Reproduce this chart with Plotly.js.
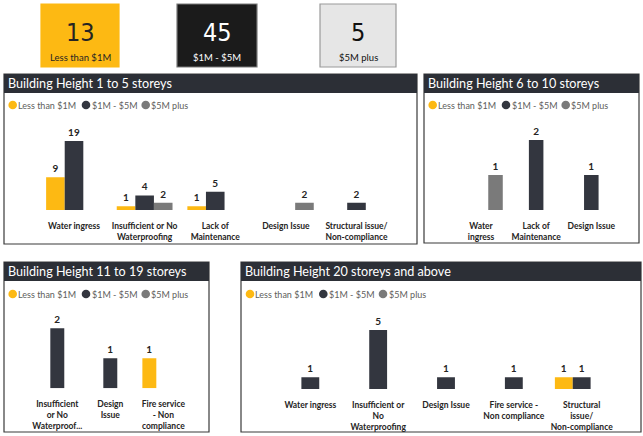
<!DOCTYPE html>
<html>
<head>
<meta charset="utf-8">
<script src="https://cdn.plot.ly/plotly-3.0.1.min.js"></script>
<style>html,body{margin:0;padding:0;background:#fff;}#chart{width:643px;height:436px;}</style>
</head>
<body>
<div id="chart"></div>
<script>
// ---- data ----
const seriesNames = ["Less than $1M", "$1M - $5M", "$5M plus"];
const seriesColors = ["#FDB913", "#33363F", "#7A7A7A"];

const panel1Title = "Building Height 1 to 5 storeys";
const panel1Cats = ["Water ingress", "Insufficient or No<br>Waterproofing", "Lack of<br>Maintenance", "Design Issue", "Structural issue/<br>Non-compliance"];
const panel1Less = [9, 1, 1, null, null];
const panel1Mid = [19, 4, 5, null, 2];
const panel1Plus = [null, 2, null, 2, null];

const panel2Title = "Building Height 6 to 10 storeys";
const panel2Cats = ["Water<br>ingress", "Lack of<br>Maintenance", "Design Issue"];
const panel2Less = [null, null, null];
const panel2Mid = [null, 2, 1];
const panel2Plus = [1, null, null];

const panel3Title = "Building Height 11 to 19 storeys";
const panel3Cats = ["Insufficient<br>or No<br>Waterproof...", "Design<br>Issue", "Fire service<br>- Non<br>compliance"];
const panel3Less = [null, null, 1];
const panel3Mid = [2, 1, null];
const panel3Plus = [null, null, null];

const panel4Title = "Building Height 20 storeys and above";
const panel4Cats = ["Water ingress", "Insufficient or<br>No<br>Waterproofing", "Design Issue", "Fire service -<br>Non compliance", "Structural<br>issue/<br>Non-compliance"];
const panel4Less = [null, null, null, null, 1];
const panel4Mid = [1, 5, 1, 1, 1];
const panel4Plus = [null, null, null, null, null];

// ---- layout helpers ----
const W = 643, H = 436;
const px = x => x / W;
const py = y => 1 - y / H;
const FONT = "Lato, 'Open Sans', sans-serif";

const panels = [
  {title: panel1Title, cats: panel1Cats, vals: [panel1Less, panel1Mid, panel1Plus],
   box: [4, 74, 417, 244], xd: [38.7, 391.8], base: 210, ppu: 3.63, ymax: 20, legX: 12.7, legY: 105},
  {title: panel2Title, cats: panel2Cats, vals: [panel2Less, panel2Mid, panel2Plus],
   box: [424, 74, 639, 243], xd: [453.4, 618.9], base: 210, ppu: 35, ymax: 2.2, legX: 432.7, legY: 105},
  {title: panel3Title, cats: panel3Cats, vals: [panel3Less, panel3Mid, panel3Plus],
   box: [4, 262, 209, 432], xd: [30.8, 189.8], base: 388.3, ppu: 30, ymax: 2.2, legX: 12.7, legY: 294},
  {title: panel4Title, cats: panel4Cats, vals: [panel4Less, panel4Mid, panel4Plus],
   box: [241, 262, 641, 432], xd: [276.4, 615.6], base: 389, ppu: 11.8, ymax: 5.5, legX: 250, legY: 294}
];

const data = [];
const shapes = [];
const annotations = [];
const layout = {
  width: W, height: H,
  margin: {l: 0, r: 0, t: 0, b: 0},
  paper_bgcolor: "#fff", plot_bgcolor: "rgba(0,0,0,0)",
  barmode: "group", bargap: 0.21, bargroupgap: 0,
  showlegend: false,
  font: {family: FONT, color: "#252423"}
};

panels.forEach((p, i) => {
  const n = i + 1;
  const xa = n === 1 ? "x" : "x" + n;
  const ya = n === 1 ? "y" : "y" + n;
  p.vals.forEach((v, s) => {
    data.push({
      type: "bar", x: p.cats, y: v, name: seriesNames[s],
      xaxis: xa, yaxis: ya,
      marker: {color: seriesColors[s], line: {width: 0}},
      texttemplate: "%{y}", textposition: "outside", cliponaxis: false,
      constraintext: "none",
      outsidetextfont: {family: FONT, size: 10, color: "#252423", weight: 700},
      hoverinfo: "skip"
    });
  });
  const yTopPx = p.base - p.ymax * p.ppu;
  layout["xaxis" + (n === 1 ? "" : n)] = {
    domain: [px(p.xd[0]), px(p.xd[1])], anchor: ya,
    type: "category", range: [-0.5, p.cats.length - 0.5],
    showgrid: false, zeroline: false, showline: false, ticks: "",
    tickangle: 0, ticklabelstandoff: 9, fixedrange: true,
    tickfont: {family: FONT, size: 8.5, color: "#252423", weight: 700}
  };
  layout["yaxis" + (n === 1 ? "" : n)] = {
    domain: [py(p.base), py(yTopPx)], anchor: xa,
    range: [0, p.ymax], visible: false, fixedrange: true
  };
  // panel border and header
  const [x0, y0, x1, y1] = p.box;
  shapes.push({type: "rect", xref: "paper", yref: "paper", x0: px(x0), x1: px(x1), y0: py(y1), y1: py(y0),
    line: {color: "#3a3a3a", width: 1.2}, fillcolor: "rgba(0,0,0,0)", layer: "below"});
  shapes.push({type: "rect", xref: "paper", yref: "paper", x0: px(x0), x1: px(x1), y0: py(y0 + 19), y1: py(y0),
    line: {width: 0}, fillcolor: "#2C2F36", layer: "below"});
  annotations.push({xref: "paper", yref: "paper", x: px(x0 + 4), y: py(y0 + 9.5), xanchor: "left", yanchor: "middle",
    text: p.title, showarrow: false, borderpad: 0, borderwidth: 0, font: {family: FONT, size: 12.6, color: "#ffffff"}});
  // legend
  const offs = [[0, 5.2], [73.3, 78.8], [133, 138.5]];
  offs.forEach((o, s) => {
    const cx = p.legX + o[0];
    shapes.push({type: "circle", xref: "paper", yref: "paper",
      x0: px(cx - 4.3), x1: px(cx + 4.3), y0: py(p.legY + 4.3), y1: py(p.legY - 4.3),
      fillcolor: seriesColors[s], line: {width: 0}});
    annotations.push({xref: "paper", yref: "paper", x: px(p.legX + o[1]), y: py(p.legY), xanchor: "left", yanchor: "middle",
      text: seriesNames[s], showarrow: false, borderpad: 0, borderwidth: 0,
      font: {family: FONT, size: 9, color: "#605E5C"}});
  });
});

// ---- summary cards (totals from data) ----
const sum = arrs => arrs.reduce((t, a) => t + a.reduce((u, v) => u + (v || 0), 0), 0);
const totals = [
  sum([panel1Less, panel2Less, panel3Less, panel4Less]),
  sum([panel1Mid, panel2Mid, panel3Mid, panel4Mid]),
  sum([panel1Plus, panel2Plus, panel3Plus, panel4Plus])
];
const cards = [
  {x0: 41, x1: 119, fill: "#FDB913", border: "#FDB913", txt: "#252423"},
  {x0: 177, x1: 257, fill: "#1B1B1B", border: "#7a7a7a", txt: "#ffffff"},
  {x0: 320, x1: 396, fill: "#E6E6E6", border: "#9a9a9a", txt: "#111111"}
];
cards.forEach((c, i) => {
  shapes.push({type: "rect", xref: "paper", yref: "paper", x0: px(c.x0), x1: px(c.x1), y0: py(67), y1: py(4),
    fillcolor: c.fill, line: {color: c.border, width: 1.2}, layer: "below"});
  const cx = (c.x0 + c.x1) / 2;
  annotations.push({xref: "paper", yref: "paper", x: px(cx), y: py(32), xanchor: "center", yanchor: "middle",
    text: String(totals[i]), showarrow: false,
    font: {family: "'DejaVu Sans Condensed', 'Liberation Sans Narrow', sans-serif", size: 25, color: c.txt}});
  annotations.push({xref: "paper", yref: "paper", x: px(cx), y: py(58), xanchor: "center", yanchor: "middle",
    text: seriesNames[i], showarrow: false, font: {family: FONT, size: 9.5, color: c.txt}});
});

layout.shapes = shapes;
layout.annotations = annotations;

Plotly.newPlot("chart", data, layout, {displayModeBar: false, staticPlot: true});
</script>
</body>
</html>
